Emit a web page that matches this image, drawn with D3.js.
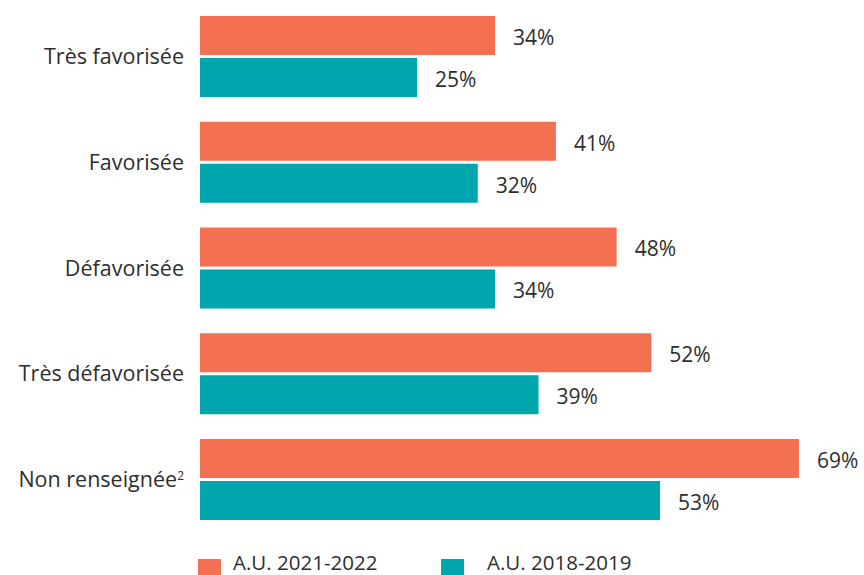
<!DOCTYPE html>
<html>
<head>
<meta charset="utf-8">
<script src="https://cdn.jsdelivr.net/npm/d3@7"></script>
<style>
  html, body { margin: 0; padding: 0; background: #fff; }
  svg { display: block; }
  text { font-family: "Open Sans", "Noto Sans", sans-serif; fill: #2e2e2e; }
</style>
</head>
<body>
<svg id="chart" width="864" height="575"></svg>
<script>
// Categories (social background of the student)
const categories = ["Très favorisée", "Favorisée", "Défavorisée", "Très défavorisée", "Non renseignée"];
// Series names, as shown in the legend
const seriesNames = ["A.U. 2021-2022", "A.U. 2018-2019"];
// Values in percent
const values2021 = [34, 41, 48, 52, 69];
const values2018 = [25, 32, 34, 39, 53];
const seriesColors = ["#F37052", "#00A6AE"];

const svg = d3.select("#chart");

const x = d3.scaleLinear().domain([0, 100]).range([200, 1068]);
const y = d3.scaleBand().domain(categories).range([16, 520]).paddingInner(0.234).paddingOuter(0);
const ySub = d3.scaleBand().domain(seriesNames).range([0, y.bandwidth()]).paddingInner(3 / 42);
const color = d3.scaleOrdinal().domain(seriesNames).range(seriesColors);

const rows = categories.map((c, i) => ({
  category: c,
  items: [
    { series: seriesNames[0], value: values2021[i] },
    { series: seriesNames[1], value: values2018[i] }
  ]
}));

const groups = svg.selectAll("g.group")
  .data(rows)
  .join("g")
  .attr("class", "group")
  .attr("transform", d => `translate(0,${y(d.category)})`);

groups.selectAll("rect")
  .data(d => d.items)
  .join("rect")
  .attr("x", x(0))
  .attr("y", d => ySub(d.series))
  .attr("width", d => x(d.value) - x(0))
  .attr("height", ySub.bandwidth())
  .attr("fill", d => color(d.series));

groups.selectAll("text.value")
  .data(d => d.items)
  .join("text")
  .attr("class", "value")
  .attr("x", d => x(d.value) + 18)
  .attr("y", d => ySub(d.series) + ySub.bandwidth() / 2 + 2)
  .attr("dy", "0.35em")
  .style("font-size", "21px")
  .text(d => d.value + "%");

// Category labels, right-aligned against the bars
const labels = groups.append("text")
  .attr("x", 184)
  .attr("y", y.bandwidth() / 2)
  .attr("dy", "0.35em")
  .attr("text-anchor", "end")
  .style("font-size", "21.5px");
labels.append("tspan").text(d => d.category);
labels.filter(d => d.category === "Non renseignée")
  .append("tspan")
  .attr("dy", "-0.55em")
  .style("font-size", "12px")
  .text("2");

// Legend
const legendX = [198, 441];
const legend = svg.selectAll("g.legend")
  .data(seriesNames)
  .join("g")
  .attr("class", "legend")
  .attr("transform", (d, i) => `translate(${legendX[i]},559)`);
legend.append("rect")
  .attr("width", 23)
  .attr("height", 16)
  .attr("fill", d => color(d));
legend.append("text")
  .attr("x", (d, i) => i === 0 ? 35 : 46)
  .attr("y", 11)
  .style("font-size", "20.5px")
  .text(d => d);
</script>
</body>
</html>
